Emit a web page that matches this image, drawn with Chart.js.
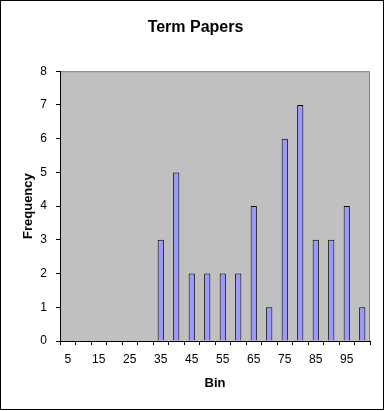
<!DOCTYPE html>
<html>
<head>
<meta charset="utf-8">
<script src="https://cdn.jsdelivr.net/npm/chart.js@4"></script>
<style>
  html, body { margin: 0; padding: 0; background: #fff; }
  #wrap { width: 385px; height: 411px; }
</style>
</head>
<body>
<div id="wrap"><canvas id="histChart" width="385" height="411"></canvas></div>
<script>
const bins = ["5", "10", "15", "20", "25", "30", "35", "40", "45", "50",
              "55", "60", "65", "70", "75", "80", "85", "90", "95", "100"];
const frequency = [0, 0, 0, 0, 0, 0, 3, 5, 2, 2, 2, 2, 4, 1, 6, 7, 3, 3, 4, 1];
const yTicks = [0, 1, 2, 3, 4, 5, 6, 7, 8];

const font = "'Liberation Sans', Arial, sans-serif";

// grey plot area + outer frame like the Excel chart
const excelLook = {
    id: 'excelLook',
    beforeDraw(chart) {
        const ctx = chart.ctx;
        const a = chart.chartArea;
        ctx.save();
        ctx.fillStyle = '#ffffff';
        ctx.fillRect(0, 0, chart.width, chart.height);
        ctx.fillStyle = '#c0c0c0';
        ctx.fillRect(a.left, a.top, a.right - a.left, a.bottom - a.top);
        ctx.strokeStyle = '#808080';
        ctx.lineWidth = 1;
        ctx.beginPath();
        ctx.moveTo(a.left, a.top + 0.5);
        ctx.lineTo(a.right - 0.5, a.top + 0.5);
        ctx.lineTo(a.right - 0.5, a.bottom);
        ctx.stroke();
        ctx.restore();
    },
    afterDraw(chart) {
        const ctx = chart.ctx;
        ctx.save();
        ctx.strokeStyle = '#000000';
        ctx.lineWidth = 1;
        ctx.strokeRect(0.5, 0.5, 383, 409);
        ctx.restore();
    }
};

new Chart(document.getElementById("histChart"), {
    type: 'bar',
    data: {
        labels: bins,
        datasets: [{
            label: 'Frequency',
            data: frequency,
            backgroundColor: '#9999ff',
            borderColor: '#000000',
            borderWidth: 1,
            categoryPercentage: 1,
            barPercentage: 0.4
        }]
    },
    options: {
        responsive: false,
        animation: false,
        layout: { padding: { left: 21, right: 15, top: 0, bottom: 0 } },
        plugins: {
            legend: { display: false },
            tooltip: { enabled: false },
            title: {
                display: true,
                text: 'Term Papers',
                color: '#000',
                font: { family: font, size: 16, weight: 'bold', lineHeight: 1.2 },
                padding: { top: 18, bottom: 34 }
            }
        },
        scales: {
            x: {
                offset: true,
                border: { color: '#000', width: 1 },
                grid: {
                    offset: true,
                    drawOnChartArea: false,
                    drawTicks: true,
                    tickLength: 4,
                    tickColor: '#000'
                },
                ticks: {
                    autoSkip: false,
                    maxRotation: 0,
                    minRotation: 0,
                    padding: 7,
                    color: '#000',
                    font: { family: font, size: 12 },
                    callback: function (v, i) { return i % 2 === 0 ? bins[i] : ''; }
                },
                title: {
                    display: true,
                    text: 'Bin',
                    color: '#000',
                    font: { family: font, size: 13, weight: 'bold', lineHeight: 1.2 },
                    padding: { top: 0, bottom: 20 }
                },
                afterFit: function (scale) { scale.height = 70; }
            },
            y: {
                min: 0,
                max: 8,
                border: { color: '#000', width: 1 },
                grid: {
                    drawOnChartArea: false,
                    drawTicks: true,
                    tickLength: 4,
                    tickColor: '#000'
                },
                afterBuildTicks: function (scale) {
                    scale.ticks = yTicks.map(v => ({ value: v }));
                },
                ticks: {
                    padding: 9,
                    color: '#000',
                    font: { family: font, size: 12 }
                },
                title: {
                    display: true,
                    text: 'Frequency',
                    color: '#000',
                    font: { family: font, size: 13, weight: 'bold', lineHeight: 1.2 },
                    padding: { top: 0, bottom: 0 }
                },
                afterFit: function (scale) { scale.width = 39; }
            }
        }
    },
    plugins: [excelLook]
});
</script>
</body>
</html>
